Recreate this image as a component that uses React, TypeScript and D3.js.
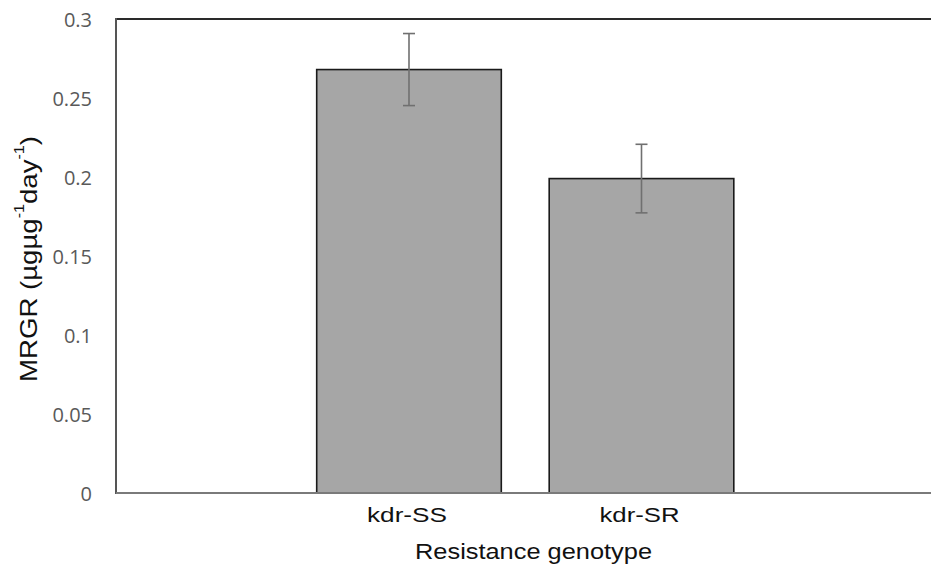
import React from "react";
import * as d3 from "d3";

const categories = ["kdr-SS", "kdr-SR"];
const values = [0.268, 0.199];
const errors = [0.0228, 0.0217];
const yTicks = [0, 0.05, 0.1, 0.15, 0.2, 0.25, 0.3];
const yTickLabels = ["0", "0.05", "0.1", "0.15", "0.2", "0.25", "0.3"];
const xTitle = "Resistance genotype";

const W = 931;
const H = 567;
const plotLeft = 116;
const plotRight = 931;
const plotTop = 19;
const plotBottom = 493;

export default function App() {
  const y = d3.scaleLinear().domain([0, 0.3]).range([plotBottom, plotTop]);
  const x = d3
    .scaleBand<string>()
    .domain(categories)
    .range([292.75, 757.75])
    .paddingInner(0.206)
    .paddingOuter(0.103);
  const bw = x.bandwidth();
  const cap = 6;

  return (
    <svg
      width={W}
      height={H}
      style={{ position: "absolute", left: 0, top: 0, background: "#fff" }}
    >
      <rect x={0} y={0} width={W} height={H} fill="#fff" />
      {/* top border */}
      <line x1={plotLeft} x2={plotRight} y1={plotTop} y2={plotTop} stroke="#2a2a2a" strokeWidth={2.2} />
      {/* left axis */}
      <line x1={plotLeft} x2={plotLeft} y1={plotTop - 1} y2={plotBottom + 1} stroke="#555" strokeWidth={2} />

      {/* bars */}
      {categories.map((c, i) => (
        <rect
          key={c}
          x={x(c)}
          y={y(values[i])}
          width={bw}
          height={y(0) - y(values[i])}
          fill="#a6a6a6"
          stroke="#1a1a1a"
          strokeWidth={1.6}
        />
      ))}

      {/* bottom axis */}
      <line x1={plotLeft} x2={plotRight} y1={plotBottom} y2={plotBottom} stroke="#7a7a7a" strokeWidth={2} />

      {/* error bars */}
      {categories.map((c, i) => {
        const cx = (x(c) as number) + bw / 2;
        const hi = y(values[i] + errors[i]);
        const lo = y(values[i] - errors[i]);
        return (
          <g key={c + "e"} stroke="#707070" strokeWidth={1.6}>
            <line x1={cx} x2={cx} y1={hi} y2={lo} />
            <line x1={cx - cap} x2={cx + cap} y1={hi} y2={hi} />
            <line x1={cx - cap} x2={cx + cap} y1={lo} y2={lo} />
          </g>
        );
      })}

      {/* y tick labels */}
      {yTicks.map((t, i) => (
        <text
          key={t}
          x={92}
          y={y(t)}
          textAnchor="end"
          dominantBaseline="central"
          fontFamily="'Open Sans', sans-serif"
          fontSize={20}
          fill="#595959"
        >
          {yTickLabels[i]}
        </text>
      ))}

      {/* x tick labels */}
      {categories.map((c) => (
        <text
          key={c + "l"}
          x={(x(c) as number) + bw / 2 - 2}
          y={522}
          textAnchor="middle"
          fontFamily="'Liberation Sans', Arial, sans-serif"
          fontSize={21}
          fill="#111"
          textLength={80}
          lengthAdjust="spacingAndGlyphs"
        >
          {c}
        </text>
      ))}

      {/* x title */}
      <text
        x={533.5}
        y={559}
        textAnchor="middle"
        fontFamily="'Liberation Sans', Arial, sans-serif"
        fontSize={22}
        fill="#111"
        textLength={237}
        lengthAdjust="spacingAndGlyphs"
      >
        {xTitle}
      </text>

      {/* y title */}
      <text
        transform={`translate(28,259) rotate(-90)`}
        textAnchor="middle"
        dominantBaseline="central"
        fontFamily="'Liberation Sans', Arial, sans-serif"
        fontSize={24}
        fill="#111"
        textLength={246}
        lengthAdjust="spacingAndGlyphs"
      >
        MRGR (µgµg
        <tspan dy={-9} fontSize={14}>-1</tspan>
        <tspan dy={9}>day</tspan>
        <tspan dy={-9} fontSize={14}>-1</tspan>
        <tspan dy={9}>)</tspan>
      </text>
    </svg>
  );
}
